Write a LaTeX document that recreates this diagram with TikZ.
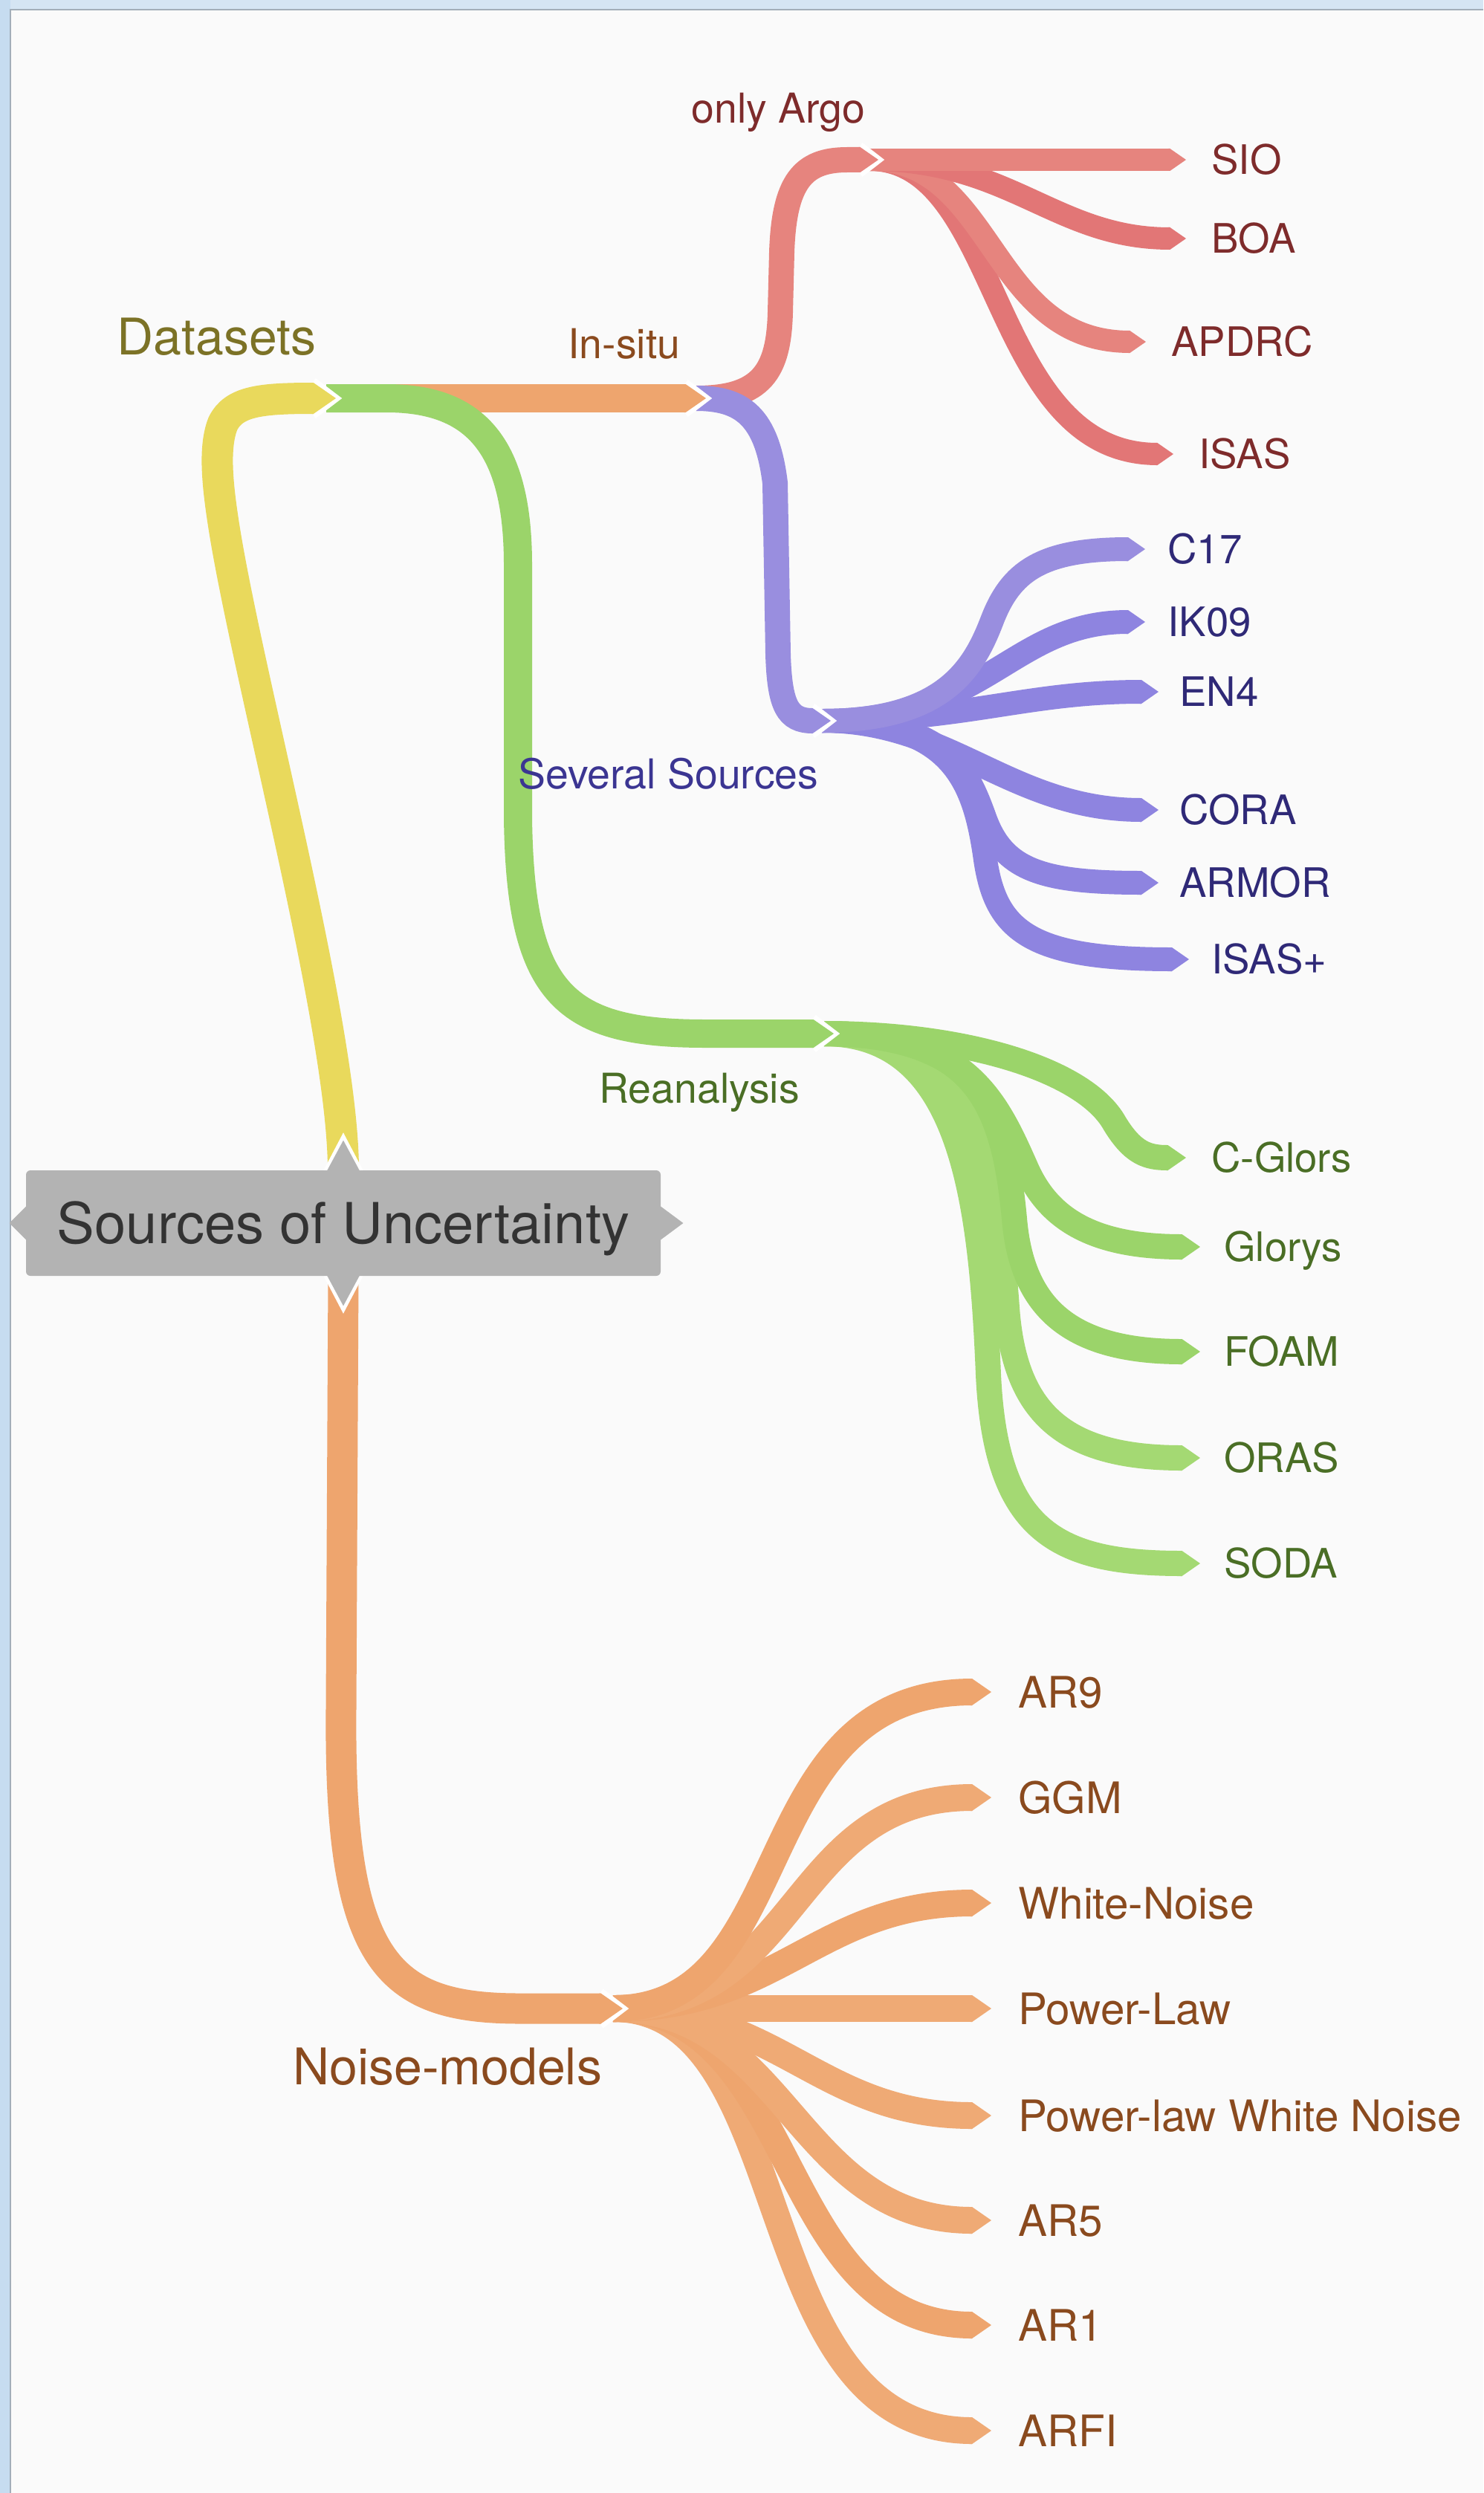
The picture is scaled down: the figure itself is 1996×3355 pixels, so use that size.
\documentclass[tikz,border=0pt]{standalone}
\usepackage{fontspec}
\setmainfont{TeX Gyre Heros}
\usetikzlibrary{calc}

\definecolor{bg}{HTML}{FAFAFA}
\definecolor{frameblue}{HTML}{D5E5F3}
\definecolor{frameblueL}{HTML}{C6DCF0}
\definecolor{frameline}{HTML}{A3AEB9}
\definecolor{cYellow}{HTML}{E9D95C}
\definecolor{cGreen}{HTML}{9BD46A}
\definecolor{cGreenB}{HTML}{A4D973}
\definecolor{cOrange}{HTML}{EEA56E}
\definecolor{cOrangeB}{HTML}{EFAA75}
\definecolor{cRed}{HTML}{E6847E}
\definecolor{cRedB}{HTML}{E27676}
\definecolor{cPurple}{HTML}{998EDF}
\definecolor{cPurpleB}{HTML}{8E84E0}
\definecolor{tOlive}{HTML}{7C7226}
\definecolor{tBrown}{HTML}{8A4A1E}
\definecolor{tRed}{HTML}{7E2B2B}
\definecolor{tIndigo}{HTML}{2F2977}
\definecolor{tIndigoB}{HTML}{3B3592}
\definecolor{tGreen}{HTML}{4A6E25}
\definecolor{tGray}{HTML}{333333}
\definecolor{boxGray}{HTML}{B3B3B3}

% chevron tip: #1 colour, #2 band width (px), #3 tip coordinate
\newcommand\chev[3]{\fill[#1] (#3) -- ++({-0.72*#2},{-#2/2}) -- ++(-2,0) -- ++(0,#2) -- ++(2,0) -- cycle;}
% band: #1 colour, #2 width (px), #3 start, #4 path middle, #5 tip
\newcommand\band[5]{\draw[#1, line width=#2*0.5pt] (#3) #4 ($(#5)+({-0.72*#2},0)$); \chev{#1}{#2}{#5}}
% white gap around a parent tip: #1 width (px), #2 tip
\newcommand\gapv[2]{\draw[white, line width=5pt, line join=miter] ($(#2)+({-0.72*#1},{-#1/2-2})$) -- (#2) -- ($(#2)+({-0.72*#1},{#1/2+2})$);}

\tikzset{
  lab/.style={inner sep=0pt, anchor=west, text depth=0pt},
  leaf/.style={lab, font=\fontsize{27.3}{32}\selectfont, text height=19.6pt},
  nleaf/.style={lab, font=\fontsize{29.2}{34}\selectfont, text height=21pt},
  lvltwo/.style={lab, font=\fontsize{27.7}{33}\selectfont, text height=19.9pt},
  lvlone/.style={lab, font=\fontsize{34}{40}\selectfont, text height=24.4pt},
}

\begin{document}
\begin{tikzpicture}[x=0.5pt, y=-0.5pt]
\useasboundingbox (0,0) rectangle (1996,3355);
\fill[bg] (0,0) rectangle (1996,3355);
\fill[frameblue] (0,0) rectangle (1996,13);
\fill[frameblueL] (0,0) rectangle (14,3355);
\draw[frameline, line width=0.8pt] (14,3355) -- (14,13) -- (1996,13);

% key points
\coordinate (rootN) at (462,1575);
\coordinate (rootS) at (462,1717);
\coordinate (dsTip) at (452,536);
\coordinate (dsOut) at (439,536);
\coordinate (isTip) at (950,536);
\coordinate (isOut) at (937,536);
\coordinate (arTip) at (1182,215);
\coordinate (arOut) at (1170,215);
\coordinate (ssTip) at (1118,970);
\coordinate (ssOut) at (1106,970);
\coordinate (reTip) at (1122,1391);
\coordinate (reOut) at (1109,1391);
\coordinate (nTip) at (838,2703);
\coordinate (nOut) at (825,2703);
% leaf tips
\coordinate (sio) at (1596,215);
\coordinate (boa) at (1596,321);
\coordinate (apd) at (1542,460);
\coordinate (isas) at (1579,611);
\coordinate (c17) at (1541,739);
\coordinate (ik) at (1541,837);
\coordinate (en4) at (1559,931);
\coordinate (cora) at (1559,1090);
\coordinate (armor) at (1559,1188);
\coordinate (isasp) at (1600,1291);
\coordinate (cg) at (1596,1558);
\coordinate (gl) at (1615,1678);
\coordinate (foam) at (1615,1819);
\coordinate (oras) at (1615,1962);
\coordinate (soda) at (1615,2104);
\coordinate (ar9) at (1334,2277);
\coordinate (ggm) at (1334,2419);
\coordinate (wn) at (1334,2561);
\coordinate (pl) at (1334,2703);
\coordinate (plwn) at (1334,2847);
\coordinate (ar5) at (1334,2988);
\coordinate (ar1) at (1334,3129);
\coordinate (arfi) at (1334,3271);

% ---- only Argo subtree
\band{cRedB}{30}{arOut}{.. controls (1350,215) and (1330,611) ..}{isas}
\band{cRed}{30}{arOut}{.. controls (1340,215) and (1330,460) ..}{apd}
\band{cRedB}{30}{arOut}{.. controls (1360,215) and (1420,321) ..}{boa}
\band{cRed}{30}{arOut}{--}{sio}
\gapv{34}{arTip}
\band{cRed}{34}{isOut}{.. controls (1025,536) and (1048,500) .. (1050,420) -- (1052,340) .. controls (1055,245) and (1080,215) .. (1140,215) --}{arTip}

% ---- Several Sources subtree
\band{cPurpleB}{32}{ssOut}{.. controls (1280,970) and (1310,1050) .. (1325,1150) .. controls (1338,1250) and (1380,1291) ..}{isasp}
\band{cPurpleB}{32}{ssOut}{.. controls (1270,970) and (1300,1030) .. (1325,1100) .. controls (1350,1170) and (1400,1188) ..}{armor}
\band{cPurpleB}{32}{ssOut}{.. controls (1280,970) and (1360,1090) ..}{cora}
\band{cPurpleB}{32}{ssOut}{.. controls (1300,970) and (1380,931) ..}{en4}
\band{cPurpleB}{32}{ssOut}{.. controls (1330,970) and (1360,837) ..}{ik}
\band{cPurple}{32}{ssOut}{.. controls (1270,970) and (1310,900) .. (1335,835) .. controls (1360,770) and (1400,739) ..}{c17}
\gapv{34}{ssTip}
\band{cPurple}{34}{isOut}{.. controls (998,536) and (1032,560) .. (1043,650) -- (1047,880) .. controls (1049,950) and (1060,970) ..}{ssTip}

% ---- In-situ
\gapv{38}{isTip}
\band{cOrange}{38}{dsOut}{--}{isTip}

% ---- Reanalysis subtree
\band{cGreenB}{34}{reOut}{.. controls (1290,1391) and (1320,1600) .. (1330,1850) .. controls (1340,2060) and (1420,2104) ..}{soda}
\band{cGreenB}{34}{reOut}{.. controls (1300,1391) and (1340,1550) .. (1355,1760) .. controls (1365,1900) and (1430,1962) ..}{oras}
\band{cGreen}{34}{reOut}{.. controls (1310,1391) and (1350,1480) .. (1365,1640) .. controls (1375,1760) and (1440,1819) ..}{foam}
\band{cGreen}{34}{reOut}{.. controls (1300,1391) and (1340,1480) .. (1380,1570) .. controls (1410,1640) and (1470,1678) ..}{gl}
\band{cGreen}{34}{reOut}{.. controls (1300,1391) and (1460,1440) .. (1500,1512) .. controls (1525,1553) and (1545,1558) ..}{cg}
\gapv{38}{reTip}
\band{cGreen}{38}{dsOut}{-- (520,536) .. controls (640,536) and (697,600) .. (697,760) -- (697,1100) .. controls (700,1340) and (760,1391) .. (950,1391) --}{reTip}

% ---- Datasets
\gapv{42}{dsTip}
\band{cYellow}{42}{rootN}{.. controls (462,1380) and (330,900) .. (300,700) .. controls (292,647) and (288,600) .. (300,570) .. controls (315,540) and (350,536) ..}{dsTip}

% ---- Noise-models subtree
\band{cOrangeB}{36}{nOut}{.. controls (1080,2703) and (1000,3271) ..}{arfi}
\band{cOrange}{36}{nOut}{.. controls (1080,2703) and (1040,3129) ..}{ar1}
\band{cOrangeB}{36}{nOut}{.. controls (1060,2703) and (1070,2988) ..}{ar5}
\band{cOrangeB}{36}{nOut}{.. controls (1050,2703) and (1100,2847) ..}{plwn}
\band{cOrangeB}{36}{nOut}{--}{pl}
\band{cOrange}{36}{nOut}{.. controls (1050,2703) and (1100,2561) ..}{wn}
\band{cOrangeB}{36}{nOut}{.. controls (1080,2703) and (1060,2419) ..}{ggm}
\band{cOrange}{36}{nOut}{.. controls (1080,2703) and (1000,2277) ..}{ar9}
\gapv{41}{nTip}
\band{cOrange}{41}{rootS}{-- (459,2300) .. controls (456,2640) and (520,2703) .. (700,2703) --}{nTip}

% ---- central topic
\draw[white, line width=5pt, line join=miter] ($(rootN)+(-22,2)$) -- ($(rootN)+(0,-40)$) -- ($(rootN)+(22,2)$);
\draw[white, line width=5pt, line join=miter] ($(rootS)+(-22,-2)$) -- ($(rootS)+(0,40)$) -- ($(rootS)+(22,-2)$);
\node[fill=boxGray, rounded corners=3pt, minimum width=427pt, minimum height=71pt,
      inner sep=0pt, text=tGray, font=\fontsize{38}{46}\selectfont,
      text height=27.3pt, text depth=0pt] (root) at (462,1646) {Sources of Uncertainty};
\fill[boxGray] ($(root.north)+(-22,1)$) -- ($(root.north)+(0,-40)$) -- ($(root.north)+(22,1)$) -- cycle;
\fill[boxGray] ($(root.south)+(-22,-1)$) -- ($(root.south)+(0,40)$) -- ($(root.south)+(22,-1)$) -- cycle;
\fill[boxGray] ($(root.west)+(1,-23)$) -- ($(root.west)+(-22,0)$) -- ($(root.west)+(1,23)$) -- cycle;
\fill[boxGray] ($(root.east)+(-1,-23)$) -- ($(root.east)+(30,0)$) -- ($(root.east)+(-1,23)$) -- cycle;

% ---- labels
\node[lvlone, text=tOlive] (datasets) at (157,453) {Datasets};
\node[lvlone, text=tBrown] (noise) at (394,2781) {Noise-models};
\node[lvltwo, text=tBrown] (insitu) at (764,463) {In-situ};
\node[lvltwo, text=tRed] (argo) at (930,146) {only Argo};
\node[lvltwo, text=tIndigoB] (several) at (697,1042) {Several Sources};
\node[lvltwo, text=tGreen] (reanalysis) at (806,1465) {Reanalysis};

\node[leaf, text=tRed] (lsio) at ([xshift=17pt]sio) {SIO};
\node[leaf, text=tRed] (lboa) at ([xshift=17pt]boa) {BOA};
\node[leaf, text=tRed] (lapd) at ([xshift=17pt]apd) {APDRC};
\node[leaf, text=tRed] (lisas) at ([xshift=17pt]isas) {ISAS};

\node[leaf, text=tIndigo] (lc17) at ([xshift=15pt]c17) {C17};
\node[leaf, text=tIndigo] (lik) at ([xshift=15pt]ik) {IK09};
\node[leaf, text=tIndigo] (len4) at ([xshift=14pt]en4) {EN4};
\node[leaf, text=tIndigo] (lcora) at ([xshift=14pt]cora) {CORA};
\node[leaf, text=tIndigo] (larmor) at ([xshift=14pt]armor) {ARMOR};
\node[leaf, text=tIndigo] (lisasp) at ([xshift=15pt]isasp) {ISAS+};

\node[leaf, text=tGreen] (lcg) at ([xshift=17pt]cg) {C-Glors};
\node[leaf, text=tGreen] (lgl) at ([xshift=16pt]gl) {Glorys};
\node[leaf, text=tGreen] (lfoam) at ([xshift=16pt]foam) {FOAM};
\node[leaf, text=tGreen] (loras) at ([xshift=16pt]oras) {ORAS};
\node[leaf, text=tGreen] (lsoda) at ([xshift=16pt]soda) {SODA};

\node[nleaf, text=tBrown] (lar9) at ([xshift=18pt]ar9) {AR9};
\node[nleaf, text=tBrown] (lggm) at ([xshift=18pt]ggm) {GGM};
\node[nleaf, text=tBrown] (lwn) at ([xshift=18pt]wn) {White-Noise};
\node[nleaf, text=tBrown] (lpl) at ([xshift=18pt]pl) {Power-Law};
\node[nleaf, text=tBrown] (lplwn) at ([xshift=18pt]plwn) {Power-law White Noise};
\node[nleaf, text=tBrown] (lar5) at ([xshift=18pt]ar5) {AR5};
\node[nleaf, text=tBrown] (lar1) at ([xshift=18pt]ar1) {AR1};
\node[nleaf, text=tBrown] (larfi) at ([xshift=18pt]arfi) {ARFI};
\end{tikzpicture}
\end{document}
